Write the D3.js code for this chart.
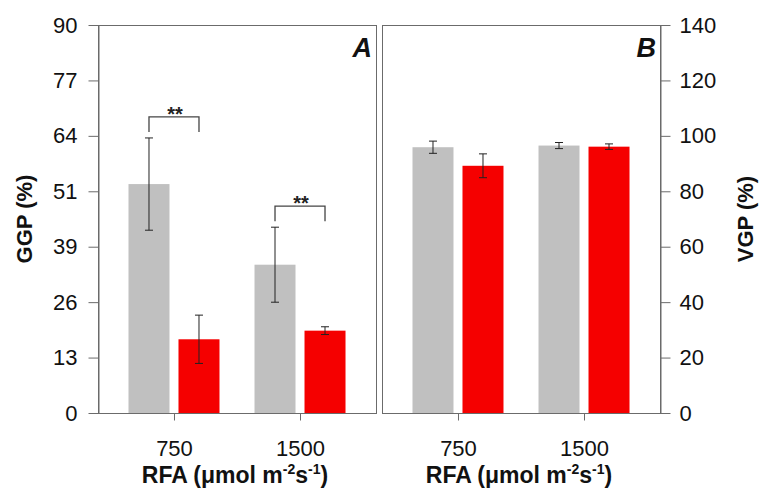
<!DOCTYPE html>
<html>
<head>
<meta charset="utf-8">
<script src="https://cdn.jsdelivr.net/npm/d3@7"></script>
<style>
  html, body { margin: 0; padding: 0; background: #fff; }
  svg { display: block; font-family: "Liberation Sans", Arial, sans-serif; }
</style>
</head>
<body>
<svg id="chart" width="759" height="488"></svg>
<script>
// Irradiance levels (RFA, µmol m-2 s-1)
const categories = ["750", "1500"];
const series = ["control", "treated"];
const seriesColors = ["#c0c0c0", "#f50000"];

// Panel A: GGP (%) means and standard errors
const ggpControl = [53.1, 34.4];
const ggpControlErr = [10.7, 8.7];
const ggpTreated = [17.1, 19.1];
const ggpTreatedErr = [5.6, 0.9];

// Panel B: VGP (%) means and standard errors
const vgpControl = [95.9, 96.5];
const vgpControlErr = [2.2, 1.1];
const vgpTreated = [89.2, 96.1];
const vgpTreatedErr = [4.3, 1.0];

// Axis tick labels
const ggpTickLabels = ["0", "13", "26", "39", "51", "64", "77", "90"];
const vgpTickLabels = ["0", "20", "40", "60", "80", "100", "120", "140"];

// Significance marks in panel A (per category)
const ggpSignif = ["**", "**"];

const svg = d3.select("#chart");
const plotTop = 25, plotBottom = 413;
const frameColor = "#6b6b6b";
const tickFont = 22;

function panel(opts) {
  const { x0, x1, yMax, tickLabels, control, controlErr, treated, treatedErr, side, letter, signif } = opts;
  const g = svg.append("g");

  const x = d3.scalePoint().domain(categories).range([x0, x1]).padding(0.603);
  const inner = d3.scaleBand().domain(series).range([-45.5, 45.5]).paddingInner(0.18);
  const y = d3.scaleLinear().domain([0, yMax]).range([plotBottom, plotTop]);

  const rows = [];
  categories.forEach((c, i) => {
    rows.push({ c, s: series[0], v: control[i], e: controlErr[i], color: seriesColors[0] });
    rows.push({ c, s: series[1], v: treated[i], e: treatedErr[i], color: seriesColors[1] });
  });

  // bars
  g.selectAll("rect.bar").data(rows).join("rect")
    .attr("class", "bar")
    .attr("x", d => x(d.c) + inner(d.s))
    .attr("width", inner.bandwidth())
    .attr("y", d => y(d.v))
    .attr("height", d => y(0) - y(d.v))
    .attr("fill", d => d.color);

  // error bars
  const cx = d => x(d.c) + inner(d.s) + inner.bandwidth() / 2;
  const eb = g.selectAll("g.err").data(rows).join("g").attr("class", "err")
    .attr("stroke", "#222").attr("stroke-width", 1);
  eb.append("line").attr("x1", cx).attr("x2", cx)
    .attr("y1", d => y(d.v + d.e)).attr("y2", d => y(d.v - d.e));
  eb.append("line").attr("x1", d => cx(d) - 4).attr("x2", d => cx(d) + 4)
    .attr("y1", d => y(d.v + d.e)).attr("y2", d => y(d.v + d.e));
  eb.append("line").attr("x1", d => cx(d) - 4).attr("x2", d => cx(d) + 4)
    .attr("y1", d => y(d.v - d.e)).attr("y2", d => y(d.v - d.e));

  // significance brackets
  if (signif) {
    categories.forEach((c, i) => {
      const xa = x(c) + inner(series[0]) + inner.bandwidth() / 2;
      const xb = x(c) + inner(series[1]) + inner.bandwidth() / 2;
      const yl = Math.min(y(control[i] + controlErr[i]), y(treated[i] + treatedErr[i])) - 21;
      g.append("path")
        .attr("d", `M${xa},${yl + 15}V${yl}H${xb}V${yl + 15}`)
        .attr("fill", "none").attr("stroke", "#444").attr("stroke-width", 1.3);
      g.append("text").attr("x", (xa + xb) / 2 + 1).attr("y", yl + 4)
        .attr("text-anchor", "middle").attr("font-size", 20).attr("font-weight", "bold")
        .attr("fill", "#222").text(signif[i]);
    });
  }

  // frame
  g.append("rect").attr("x", x0 + 0.5).attr("y", plotTop + 0.5)
    .attr("width", x1 - x0).attr("height", plotBottom - plotTop)
    .attr("fill", "none").attr("stroke", frameColor).attr("stroke-width", 1);

  // y axis
  const n = tickLabels.length - 1;
  const tickVals = d3.range(n + 1).map(i => i * yMax / n);
  const yAxis = (side === "left" ? d3.axisLeft(y) : d3.axisRight(y))
    .tickValues(tickVals)
    .tickFormat((d, i) => tickLabels[i])
    .tickSizeInner(10).tickSizeOuter(0).tickPadding(side === "left" ? 11 : 9);
  const ya = g.append("g")
    .attr("transform", `translate(${side === "left" ? x0 + 0.5 : x1 + 0.5},0)`)
    .call(yAxis);
  ya.select(".domain").attr("stroke", frameColor);
  ya.selectAll(".tick line").attr("stroke", frameColor);
  ya.selectAll(".tick text").attr("font-size", tickFont).attr("fill", "#111")
    .attr("font-family", "Liberation Sans, Arial, sans-serif");

  // x axis
  const xAxis = d3.axisBottom(x).tickSizeInner(7).tickSizeOuter(0).tickPadding(20);
  const xa = g.append("g").attr("transform", `translate(0,${plotBottom + 0.5})`).call(xAxis);
  xa.select(".domain").remove();
  xa.selectAll(".tick line").attr("stroke", frameColor);
  xa.selectAll(".tick text").attr("font-size", tickFont).attr("fill", "#111")
    .attr("font-family", "Liberation Sans, Arial, sans-serif");

  // x axis title
  const t = g.append("text").attr("x", (x0 + x1) / 2 - 2).attr("y", 483)
    .attr("text-anchor", "middle").attr("font-size", 23).attr("font-weight", "bold").attr("fill", "#111");
  t.append("tspan").text("RFA (\u03bcmol m");
  t.append("tspan").attr("font-size", 14).attr("dy", -9).text("-2");
  t.append("tspan").attr("dy", 9).text("s");
  t.append("tspan").attr("font-size", 14).attr("dy", -9).text("-1");
  t.append("tspan").attr("dy", 9).text(")");

  // panel letter
  g.append("text").attr("x", x1 - 4).attr("y", 57)
    .attr("text-anchor", "end").attr("font-size", 27).attr("font-weight", "bold")
    .attr("font-style", "italic").attr("fill", "#111").text(letter);

  return { x, y };
}

panel({
  x0: 98, x1: 376, yMax: 90, tickLabels: ggpTickLabels,
  control: ggpControl, controlErr: ggpControlErr,
  treated: ggpTreated, treatedErr: ggpTreatedErr,
  side: "left", letter: "A", signif: ggpSignif
});

panel({
  x0: 382, x1: 660, yMax: 140, tickLabels: vgpTickLabels,
  control: vgpControl, controlErr: vgpControlErr,
  treated: vgpTreated, treatedErr: vgpTreatedErr,
  side: "right", letter: "B", signif: null
});

// y axis titles
svg.append("text").attr("transform", "translate(32,219) rotate(-90)")
  .attr("text-anchor", "middle").attr("font-size", 22).attr("font-weight", "bold")
  .attr("fill", "#111").text("GGP (%)");
svg.append("text").attr("transform", "translate(753,219) rotate(-90)")
  .attr("text-anchor", "middle").attr("font-size", 22).attr("font-weight", "bold")
  .attr("fill", "#111").text("VGP (%)");
</script>
</body>
</html>
